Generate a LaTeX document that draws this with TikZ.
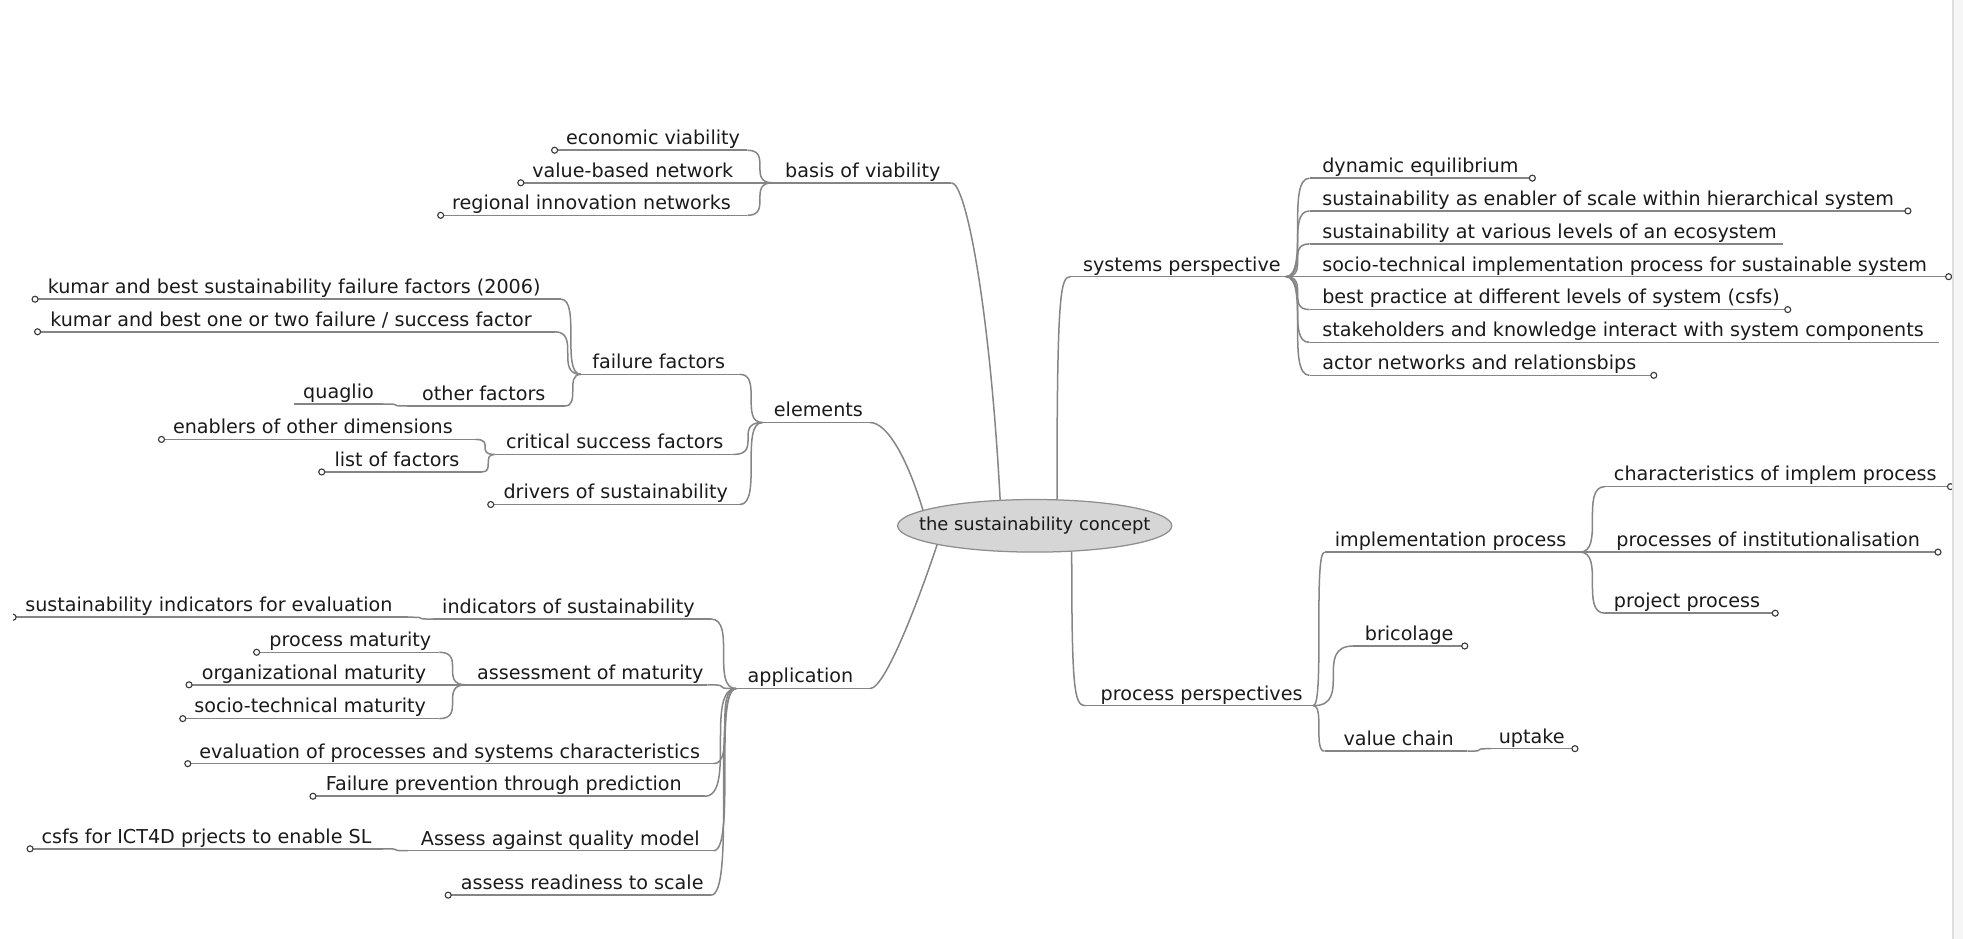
\documentclass[tikz,border=0pt]{standalone}
\usepackage{fontspec}
\setmainfont{DejaVu Sans}
\usetikzlibrary{shapes.geometric}

\definecolor{ink}{HTML}{1A1A1A}
\definecolor{wire}{HTML}{858585}
\definecolor{bubble}{HTML}{D6D6D6}
\definecolor{bubbleline}{HTML}{8E8E8E}
\definecolor{gutter}{HTML}{F6F6F6}
\definecolor{gutterline}{HTML}{DDDDDD}

\tikzset{
  edge/.style={draw=wire, line width=1.2pt},
  lbl/.style={inner sep=0pt, anchor=base west, text=ink, font=\fontsize{15.3}{18}\selectfont},
  knob/.style={circle, draw=ink!85, fill=white, line width=0.9pt, minimum size=4.8pt, inner sep=0pt},
  rootnode/.style={ellipse, draw=bubbleline, fill=bubble, line width=1pt,
    minimum width=219pt, minimum height=42pt, inner sep=0pt},
  roottext/.style={inner sep=0pt, text=ink, font=\fontsize{14.3}{17}\selectfont},
}

% a topic: name, text x, line y, line left x, line right x, text
\newcommand\mmtopic[6]{%
  \coordinate (#1-l) at (#4,#3);
  \coordinate (#1-r) at (#5,#3);
  \draw[edge] (#1-l) -- (#1-r);
  \node[lbl] (#1) at (#2,{#3-4.5}) {#6};
}
% fork connector between two line ends, horizontal at both ends
\newcommand\mmfork[2]{\draw[edge] (#1) .. controls (#2 |- #1) and (#1 |- #2) .. (#2);}
% small open circle at a line end
\newcommand\mmknob[1]{\node[knob] (#1-k) at (#1) {};}

\begin{document}
\begin{tikzpicture}[x=1pt, y=-1pt]
\useasboundingbox (0,0) rectangle (1568,750);

% central topic
\node[rootnode] (root) at (826.5,420) {};
\node[roottext] (roottxt) at (root.center) {the sustainability concept};

% ---------------- systems perspective ----------------
\mmtopic{sp}{865}{221}{855}{1027}{systems perspective}
\mmtopic{sp1}{1056}{142.3}{1046}{1224}{dynamic equilibrium}
\mmtopic{sp2}{1056}{168.5}{1046}{1524}{sustainability as enabler of scale within hierarchical system}
\mmtopic{sp3}{1056}{194.8}{1046}{1424}{sustainability at various levels of an ecosystem}
\mmtopic{sp4}{1056}{221}{1046}{1556.5}{socio-technical implementation process for sustainable system}
\mmtopic{sp5}{1056}{247.3}{1046}{1428}{best practice at different levels of system (csfs)}
\mmtopic{sp6}{1056}{273.5}{1046}{1549}{stakeholders and knowledge interact with system components}
\mmtopic{sp7}{1056}{299.8}{1046}{1321}{actor networks and relationsbips}
\foreach \k in {1,...,7} {\mmfork{sp-r}{sp\k-l}}
\mmknob{sp1-r}\mmknob{sp2-r}\mmknob{sp4-r}\mmknob{sp5-r}\mmknob{sp7-r}

% ---------------- process perspectives ----------------
\mmtopic{pp}{879}{563.7}{867}{1049}{process perspectives}
\mmtopic{ip}{1066}{441}{1058}{1262}{implementation process}
\mmtopic{ip1}{1289}{388.7}{1282}{1558}{characteristics of implem process}
\mmtopic{ip2}{1291}{441}{1282}{1548}{processes of institutionalisation}
\mmtopic{ip3}{1289}{489.8}{1282}{1418}{project process}
\mmtopic{br}{1090}{516}{1081}{1170}{bricolage}
\mmtopic{vc}{1073}{600}{1058}{1172}{value chain}
\mmtopic{up}{1197}{598}{1191}{1258}{uptake}
\mmfork{pp-r}{ip-l}\mmfork{pp-r}{br-l}\mmfork{pp-r}{vc-l}
\mmfork{ip-r}{ip1-l}\mmfork{ip-r}{ip2-l}\mmfork{ip-r}{ip3-l}
\mmfork{vc-r}{up-l}
\mmknob{ip1-r}\mmknob{ip2-r}\mmknob{ip3-r}\mmknob{br-r}\mmknob{up-r}

% ---------------- basis of viability ----------------
\mmtopic{bv}{627}{146}{617}{760}{basis of viability}
\mmtopic{bv1}{452}{120}{443}{597}{economic viability}
\mmtopic{bv2}{425}{146}{416}{597}{value-based network}
\mmtopic{bv3}{361}{172}{352}{597}{regional innovation networks}
\mmfork{bv1-r}{bv-l}\mmfork{bv2-r}{bv-l}\mmfork{bv3-r}{bv-l}
\mmknob{bv1-l}\mmknob{bv2-l}\mmknob{bv3-l}

% ---------------- elements ----------------
\mmtopic{el}{618}{337.5}{609}{695}{elements}
\mmtopic{ff}{473}{299}{464}{591}{failure factors}
\mmtopic{ff1}{38}{239}{28}{448}{kumar and best sustainability failure factors (2006)}
\mmtopic{ff2}{40}{265}{30}{443}{kumar and best one or two failure / success factor}
\mmtopic{ff3}{337}{324.3}{326}{451}{other factors}
\mmtopic{qg}{242}{322.7}{235}{306}{quaglio}
\mmtopic{cs}{404}{363}{395}{586}{critical success factors}
\mmtopic{cs1}{138}{351}{129}{380}{enablers of other dimensions}
\mmtopic{cs2}{267}{377}{257}{385}{list of factors}
\mmtopic{ds}{402}{403}{392}{591}{drivers of sustainability}
\mmfork{ff-r}{el-l}\mmfork{cs-r}{el-l}\mmfork{ds-r}{el-l}
\mmfork{ff1-r}{ff-l}\mmfork{ff2-r}{ff-l}\mmfork{ff3-r}{ff-l}
\mmfork{qg-r}{ff3-l}
\mmfork{cs1-r}{cs-l}\mmfork{cs2-r}{cs-l}
\mmknob{ff1-l}\mmknob{ff2-l}\mmknob{cs1-l}\mmknob{cs2-l}\mmknob{ds-l}

% ---------------- application ----------------
\mmtopic{ap}{597}{550}{588}{695}{application}
\mmtopic{ai}{353}{494.5}{346}{568}{indicators of sustainability}
\mmtopic{ai1}{20}{493}{10.5}{326}{sustainability indicators for evaluation}
\mmtopic{am}{381}{547}{372}{565}{assessment of maturity}
\mmtopic{am1}{215}{521}{205}{351}{process maturity}
\mmtopic{am2}{161}{547}{151}{351}{organizational maturity}
\mmtopic{am3}{155}{574}{146}{351}{socio-technical maturity}
\mmtopic{ev}{159}{610}{150}{570}{evaluation of processes and systems characteristics}
\mmtopic{fp}{260}{636}{250}{563}{Failure prevention through prediction}
\mmtopic{aq}{336}{679.5}{326}{570}{Assess against quality model}
\mmtopic{aq1}{33}{678}{24}{306}{csfs for ICT4D prjects to enable SL}
\mmtopic{rs}{368}{715}{358}{568}{assess readiness to scale}
\foreach \c in {ai,am,ev,fp,aq,rs} {\mmfork{\c-r}{ap-l}}
\mmfork{ai1-r}{ai-l}
\mmfork{am1-r}{am-l}\mmfork{am2-r}{am-l}\mmfork{am3-r}{am-l}
\mmfork{aq1-r}{aq-l}
\mmknob{am1-l}\mmknob{am2-l}\mmknob{am3-l}\mmknob{ev-l}\mmknob{fp-l}\mmknob{aq1-l}\mmknob{rs-l}
\begin{scope}
  \clip (10.5,485) rectangle (20,501);
  \mmknob{ai1-l}
\end{scope}

% ---------------- main branches into the central topic ----------------
\draw[edge] (bv-r) .. controls +(12,0) and +(-8,-150) .. (root.143);
\draw[edge] (sp-l) .. controls +(-8,0) and +(0,-165) .. (root.50.5);
\draw[edge] (el-r) .. controls +(14,0) and +(-12,-40) .. (root.172.5);
\draw[edge] (ap-r) .. controls +(12,0) and +(-15,45) .. (root.191.8);
\draw[edge] (pp-l) .. controls +(-9,0) and +(0,110) .. (root.325.5);

% window edge on the right
\fill[gutter] (1560,0) rectangle (1568,750);
\draw[gutterline, line width=1pt] (1560,0) -- (1560,750);
\end{tikzpicture}
\end{document}
